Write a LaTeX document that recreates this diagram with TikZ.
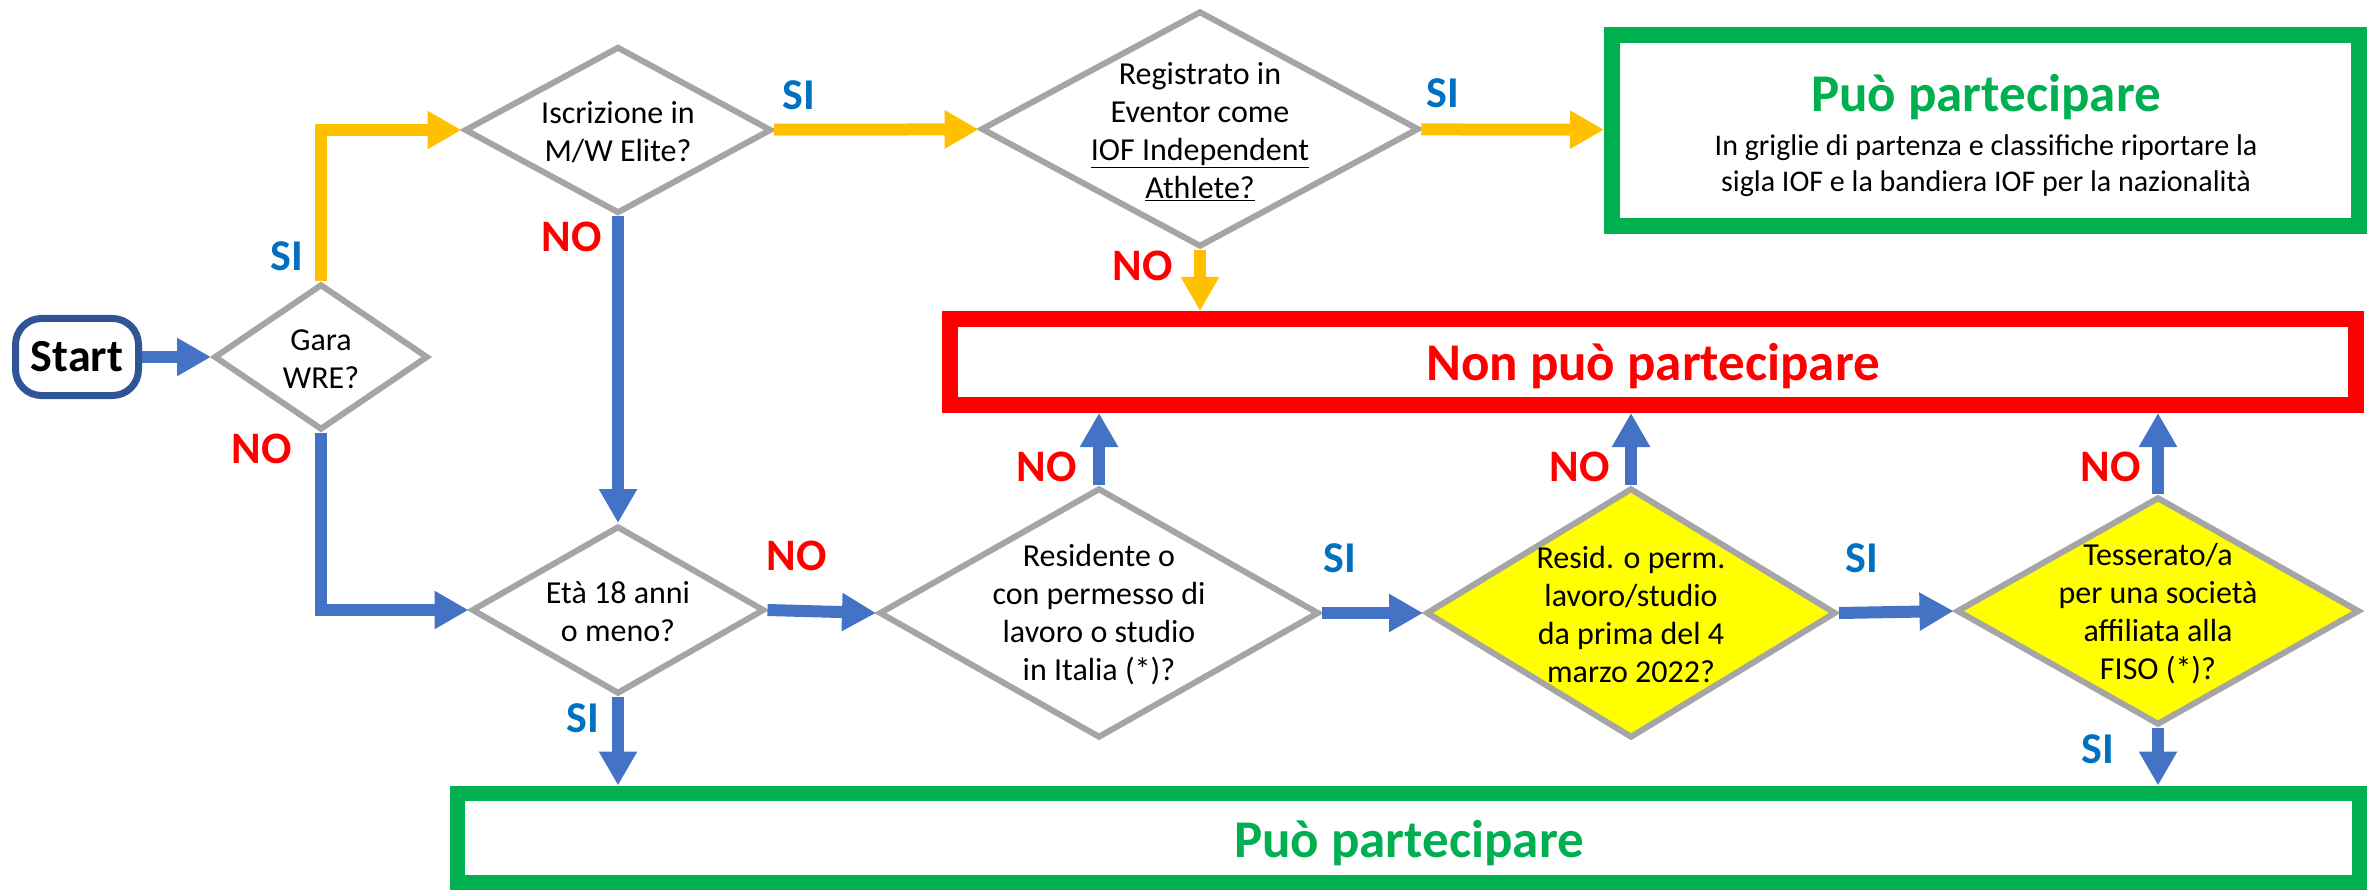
\documentclass[tikz,border=0pt]{standalone}
\usepackage{fontspec}
\setmainfont{Carlito}
\usetikzlibrary{arrows.meta,shapes.geometric}
\definecolor{abl}{HTML}{4472C4}
\definecolor{ayl}{HTML}{FFC000}
\definecolor{agr}{HTML}{A5A5A5}
\definecolor{sicol}{HTML}{0070C0}
\definecolor{nocol}{HTML}{FF0000}
\definecolor{okgreen}{HTML}{00B050}
\definecolor{startblue}{HTML}{2F5597}
\definecolor{qyellow}{HTML}{FFFF00}
\begin{document}
\begin{tikzpicture}[x=1pt,y=-1pt,
  dia/.style={diamond, draw=agr, line width=6pt, fill=white, inner sep=0pt},
  dtext/.style={align=center, font=\fontsize{32}{38}\selectfont, inner sep=0pt},
  barrow/.style={draw=abl, line width=12pt, -{Triangle[length=34pt,width=36pt]}},
  yarrow/.style={draw=ayl, line width=12pt, -{Triangle[length=34pt,width=36pt]}},
  silab/.style={text=sicol, font=\bfseries\fontsize{44}{44}\selectfont, inner sep=0pt},
  nolab/.style={text=nocol, font=\bfseries\fontsize{45}{45}\selectfont, inner sep=0pt},
  okbox/.style={draw=okgreen, line width=16pt, fill=white, inner sep=0pt},
  nobox/.style={draw=nocol, line width=16pt, fill=white, inner sep=0pt},
  bigtitle/.style={font=\bfseries\fontsize{53}{53}\selectfont, inner sep=0pt},
  startbox/.style={draw=startblue, line width=7pt, rounded corners=26pt, fill=white,
    minimum width=123pt, minimum height=77pt, inner sep=0pt,
    font=\bfseries\fontsize{46}{46}\selectfont}
]
\useasboundingbox (0,0) rectangle (2376,890);

% boxes
\node[startbox] (start) at (77,357) {Start};
\node[okbox, minimum width=747pt, minimum height=191pt] (pp1) at (1985.5,130.5) {};
\node[bigtitle, text=okgreen] (pp1t) at (1986,97) {Può partecipare};
\node[align=center, inner sep=0pt, font=\fontsize{30}{36}\selectfont] (pp1s) at (1986,166)
  {In griglie di partenza e classifiche riportare la\\sigla IOF e la bandiera IOF per la nazionalità};
\node[nobox, minimum width=1406pt, minimum height=86pt] (nonpp) at (1653,362) {};
\node[bigtitle, text=nocol] (nonppt) at (1653,366) {Non può partecipare};
\node[okbox, minimum width=1902pt, minimum height=89pt, line width=15pt] (pp2) at (1408,837.5) {};
\node[bigtitle, text=okgreen] (pp2t) at (1409,843) {Può partecipare};

% diamonds
\node[dia, minimum width=214pt, minimum height=146pt] (gara) at (321,357) {};
\node[dtext] (garat) at (321,359) {Gara\\WRE?};
\node[dia, minimum width=307pt, minimum height=167pt] (iscr) at (618,130) {};
\node[dtext] (iscrt) at (618,132) {Iscrizione in\\M/W Elite?};
\node[dia, minimum width=438pt, minimum height=236pt] (reg) at (1200,129) {};
\node[dtext] (regt) at (1200,132) {Registrato in\\Eventor come\\\underline{IOF Independent}\\\underline{Athlete?}};
\node[dia, minimum width=293pt, minimum height=168pt] (eta) at (618,610) {};
\node[dtext] (etat) at (618,612) {Età 18 anni\\o meno?};
\node[dia, minimum width=440pt, minimum height=250pt] (res) at (1099,613) {};
\node[dtext] (rest) at (1099,615) {Residente o\\con permesso di\\lavoro o studio\\in Italia (*)?};
\node[dia, fill=qyellow, minimum width=410pt, minimum height=250pt] (resid) at (1631,613) {};
\node[dtext] (residt) at (1631,615) {Resid. o perm.\\lavoro/studio\\da prima del 4\\marzo 2022?};
\node[dia, fill=qyellow, minimum width=403pt, minimum height=228pt] (tess) at (2158,611) {};
\node[dtext] (tesst) at (2158,614) {Tesserato/a\\per una società\\affiliata alla\\FISO (*)?};

% connectors
\draw[barrow] (start) -- (gara);
\draw[yarrow] (gara.north) |- (iscr.west);
\draw[barrow] (gara.south) |- (eta.west);
\draw[yarrow] (iscr) -- (reg);
\draw[yarrow] (reg) -- (pp1);
\draw[yarrow] (reg.south) -- (reg.south |- nonpp.north);
\draw[barrow] (iscr.south) -- (eta.north);
\draw[barrow] (eta.east) -- (res.west);
\draw[barrow] (eta.south) -- (eta.south |- pp2.north);
\draw[barrow] (res.north) -- (res.north |- nonpp.south);
\draw[barrow] (res.east) -- (resid.west);
\draw[barrow] (resid.north) -- (resid.north |- nonpp.south);
\draw[barrow] (resid.east) -- (tess.west);
\draw[barrow] (tess.north) -- (tess.north |- nonpp.south);
\draw[barrow] (tess.south) -- (tess.south |- pp2.north);

% labels
\node[silab] (si1) at (287,256) {SI};
\node[nolab] (no1) at (262,449) {NO};
\node[silab] (si2) at (799,95) {SI};
\node[nolab] (no2) at (572,237) {NO};
\node[silab] (si3) at (1443,93) {SI};
\node[nolab] (no3) at (1143,266) {NO};
\node[nolab] (no4) at (797,556) {NO};
\node[silab] (si4) at (583,718) {SI};
\node[nolab] (no5) at (1047,467) {NO};
\node[silab] (si5) at (1340,558) {SI};
\node[nolab] (no6) at (1580,467) {NO};
\node[silab] (si6) at (1862,558) {SI};
\node[nolab] (no7) at (2111,467) {NO};
\node[silab] (si7) at (2098,749) {SI};
\end{tikzpicture}
\end{document}
